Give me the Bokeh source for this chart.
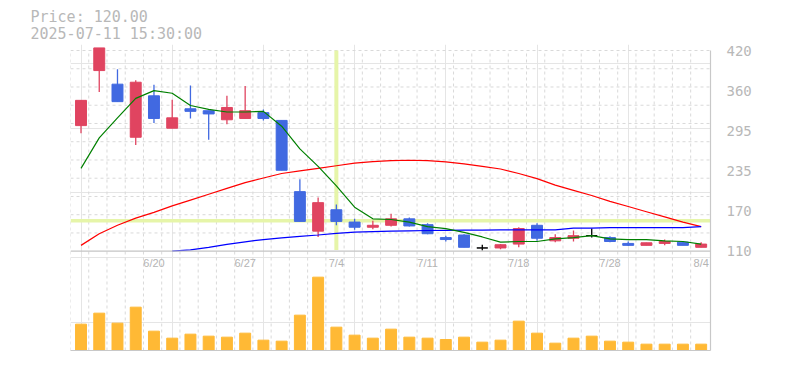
import math
from bokeh.plotting import figure
from bokeh.models import (Range1d, LinearAxis, FixedTicker, Span, Title,
                          ColumnDataSource)
from bokeh.core.properties import value
from bokeh.embed import file_html
from bokeh.resources import INLINE

# ---------------- data ----------------
DATES = ["6/16", "6/17", "6/18", "6/19", "6/20", "6/23", "6/24", "6/25", "6/26", "6/27",
         "6/30", "7/1", "7/2", "7/3", "7/4", "7/7", "7/8", "7/9", "7/10", "7/11",
         "7/14", "7/15", "7/16", "7/17", "7/18", "7/22", "7/23", "7/24", "7/25", "7/28",
         "7/29", "7/30", "7/31", "8/1", "8/4"]
OPEN = [304, 389, 368, 286, 350, 300, 330, 327, 313, 315,
        324, 312, 202, 141, 174, 155, 147, 150, 160, 151,
        131, 135, 115, 115, 121, 150, 126, 130, 134, 131,
        122, 119, 122, 124, 116]
HIGH = [343, 424, 391, 374, 367, 344, 366, 327, 350, 365,
        329, 312, 221, 193, 182, 160, 157, 168, 162, 153,
        134, 136, 120, 121, 147, 153, 136, 142, 145, 133,
        125, 123, 128, 125, 124]
LOW = [292, 356, 341, 274, 308, 300, 315, 282, 306, 315,
       312, 235, 156, 132, 150, 143, 144, 148, 148, 136,
       125, 116, 111, 113, 116, 126, 124, 125, 131, 124,
       118, 119, 119, 119, 116]
CLOSE = [343, 424, 341, 371, 315, 316, 326, 322, 332, 327,
         315, 235, 156, 185, 156, 147, 150, 160, 149, 137,
         128, 116, 115, 120, 145, 130, 131, 134, 134, 125,
         119, 123, 125, 119, 121]
VOLUME = [395, 560, 410, 650, 290, 185, 245, 215, 200, 260,
          155, 140, 530, 1100, 350, 230, 185, 320, 200, 185,
          165, 200, 125, 155, 440, 260, 110, 185, 215, 140,
          125, 95, 95, 95, 95]
MA_SHORT = [238, 285, 316, 346, 358, 354, 335, 329, 325, 325,
            326, 303, 268, 241, 211, 178, 160, 159, 155, 148,
            145, 139, 132, 124, 125, 125, 129, 131, 134, 129,
            128, 128, 126, 125, 121]
MA_MID = [119, 137, 150, 161, 170, 180, 189, 198, 207, 216,
          223, 230, 234, 238, 242, 246, 248.5, 250, 250.5, 250,
          248, 245, 241, 237, 230, 222, 212, 204, 196, 187,
          179, 171, 163, 155, 148]
NAN = float("nan")
MA_LONG = [NAN, NAN, NAN, NAN, NAN, 110, 112, 116, 120.5, 124.5,
           128, 130.5, 133, 135, 137.5, 139.5, 140.3, 141, 141.5, 142,
           142.3, 142.5, 142.7, 143, 143, 143, 143, 145.5, 145.5, 146.5,
           146.5, 146.5, 146.5, 146.5, 148]
XTICK_LABELS = ["6/20", "6/27", "7/4", "7/11", "7/18", "7/28", "8/4"]
PRICE_TICKS = [110, 172, 234, 296, 358, 420]
PRICE_TICK_LABELS = ["110", "170", "235", "295", "360", "420"]
CURSOR_DATE = "7/4"
CURSOR_PRICE = 157
INFO_LINES = ["Price: 120.00", "2025-07-11 15:30:00"]

# ---------------- layout / styles ----------------
W, H = 785, 370
FL, FR, FT, FB = 70, 710, 44, 350          # frame edges in pixels
P_LO, P_HI = PRICE_TICKS[0], PRICE_TICKS[-1]
P_LO_PX, P_HI_PX = 250.7, 50.0
UPP = (P_HI - P_LO) / (P_LO_PX - P_HI_PX)   # price units per pixel
Y_TOP = P_HI + (P_HI_PX - FT) * UPP
Y_BOT = P_LO - (FB - P_LO_PX) * UPP
STEP_PX = 18.24
X_START = -0.576
X_END = X_START + (FR - FL) / STEP_PX
VOL_PER_PX = 15.0

RED = "#e04460"
BLUE = "#4169e1"
ORANGE = "#ffb935"
GRID_C = "#d9d9d9"
TEXT_C = "#b8b8b8"
CURSOR_C = "#e6f5a9"


def py_to_y(py):
    return P_LO + (P_LO_PX - py) * UPP


n = len(DATES)
idx = list(range(n))

p = figure(width=W, height=H, x_range=Range1d(X_START, X_END), y_range=Range1d(Y_BOT, Y_TOP),
           output_backend="svg", toolbar_location=None,
           x_axis_location=None, y_axis_location=None,
           min_border_left=FL, min_border_right=W - FR, min_border_top=FT,
           min_border_bottom=H - FB, outline_line_color=None,
           background_fill_color="white", border_fill_color="white")
p.extra_y_ranges = {"vol": Range1d(0, VOL_PER_PX * (FB - FT))}

# grid (dashed)
hgrid = [P_LO + k * (P_HI - P_LO) / 11 for k in range(1, 12)]
p.segment(x0=[X_START] * len(hgrid), y0=hgrid, x1=[X_END] * len(hgrid), y1=hgrid,
          line_color=GRID_C, line_dash="3 3", line_width=1)
vgrid = [X_START + k for k in range(n)]
p.segment(x0=vgrid, y0=[Y_BOT] * n, x1=vgrid, y1=[P_HI] * n,
          line_color=GRID_C, line_dash="3 3", line_width=1)

# cursor cross
cx = DATES.index(CURSOR_DATE)
p.segment(x0=[cx], y0=[P_LO + 2], x1=[cx], y1=[P_HI], line_color=CURSOR_C, line_width=4)
p.segment(x0=[X_START], y0=[CURSOR_PRICE], x1=[X_END], y1=[CURSOR_PRICE],
          line_color=CURSOR_C, line_width=3.5)

# price baseline
p.add_layout(Span(location=P_LO, dimension="width", line_color="#c4c4c4", line_width=1.2))

# volume
p.vbar(x=idx, top=VOLUME, bottom=0, width=0.6, y_range_name="vol",
       fill_color=ORANGE, line_color=ORANGE)

# candles
colors = [RED if c > o else (BLUE if c < o else "black") for o, c in zip(OPEN, CLOSE)]
src = ColumnDataSource(dict(
    x=idx, high=HIGH, low=LOW,
    top=[max(o, c) for o, c in zip(OPEN, CLOSE)],
    bottom=[min(o, c) for o, c in zip(OPEN, CLOSE)],
    color=colors))
p.segment(x0="x", y0="low", x1="x", y1="high", line_color="color", line_width=1.3, source=src)
p.vbar(x="x", top="top", bottom="bottom", width=0.6, fill_color="color",
       line_color="color", line_width=1, source=src)

# moving averages
p.line(idx, MA_MID, line_color="#ff0000", line_width=1.2)
p.line(idx, MA_LONG, line_color="#0000ff", line_width=1.2)
p.line(idx, MA_SHORT, line_color="#008000", line_width=1.2)

# axes
right = LinearAxis(ticker=FixedTicker(ticks=PRICE_TICKS),
                   major_label_overrides=dict(zip(PRICE_TICKS, PRICE_TICK_LABELS)),
                   bounds=(Y_BOT, P_HI),
                   axis_line_color="#c8c8c8", axis_line_width=1.2,
                   major_tick_line_color=None, minor_tick_line_color=None,
                   major_label_standoff=10,
                   major_label_text_font="DejaVu Sans Mono",
                   major_label_text_font_size="14px",
                   major_label_text_color=TEXT_C)
p.add_layout(right, "right")
bottom = LinearAxis(ticker=FixedTicker(ticks=[]), axis_line_color="#c8c8c8",
                    axis_line_width=1.2, major_tick_line_color=None,
                    minor_tick_line_color=None, major_label_text_font_size="0px")
p.add_layout(bottom, "below")

# date labels
xt = [DATES.index(l) for l in XTICK_LABELS]
p.text(x=xt, y=[py_to_y(262)] * len(xt), text=XTICK_LABELS,
       text_font=value("Liberation Sans"), text_font_size="11px",
       text_color="#b4b4b4", text_align="center", text_baseline="middle")

# info text (two title lines, nearest to the frame first)
for i, line in enumerate(reversed(INFO_LINES)):
    p.add_layout(Title(text=line, align="left", offset=30 - FL,
                       text_font="DejaVu Sans Mono", text_font_size="15px",
                       text_font_style="normal", text_color=TEXT_C,
                       standoff=3 if i == 0 else -8), "above")

open("out.html", "w").write(file_html(p, INLINE))
